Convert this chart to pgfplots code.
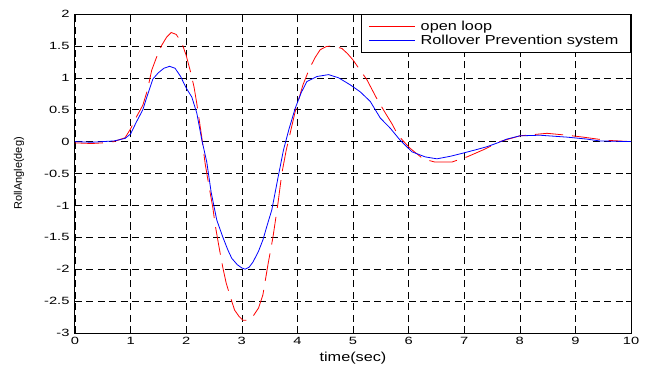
\documentclass[border=0pt]{standalone}
\usepackage{fontspec}
\setmainfont{Liberation Sans}
\newfontfamily\tickfont[FakeStretch=1.4]{Liberation Sans}
\newfontfamily\labfont[FakeStretch=1.25]{Liberation Sans}
\usepackage{pgfplots}
\pgfplotsset{compat=1.18}
\begin{document}
\begin{tikzpicture}
\useasboundingbox (-75bp,-36bp) rectangle (576bp,333bp);
\begin{axis}[
  at={(0,0)}, anchor=south west,
  scale only axis, width=556bp, height=319bp,
  xmin=0, xmax=10, ymin=-3, ymax=2,
  xtick={0,1,...,10}, ytick={-3,-2.5,...,2},
  yticklabels={-3,-2.5,-2,-1.5,-1,-0.5,0,0.5,1,1.5,2},
  xticklabels={0,1,2,3,4,5,6,7,8,9,10},
  /pgf/number format/assume math mode=true,
  tick label style={font=\tickfont\fontsize{10.5bp}{12bp}\selectfont},
  xticklabel style={yshift=-1bp},
  yticklabel style={xshift=-2bp},
  tick align=inside, major tick length=5bp,
  tick style={black, line width=0.6bp},
  axis line style={black, line width=1bp},
  grid=major,
  major grid style={black, line width=0.6bp, dash pattern=on 7bp off 4.5bp},
  xlabel={time(sec)},
  xlabel style={font=\labfont\fontsize{13bp}{15bp}\selectfont, at={(axis description cs:0.5,0)}, anchor=center, yshift=-25bp},
  ylabel={RollAngle(deg)},
  ylabel style={font=\fontsize{11bp}{13bp}\selectfont, at={(axis description cs:-0.1007,0.5)}, anchor=center},
  legend style={at={(1,1)}, anchor=north east, draw=black, line width=1bp, fill=white,
    font=\labfont\fontsize{13bp}{15bp}\selectfont, inner xsep=7bp, inner ysep=4.5bp,
    row sep=-0.5bp, legend cell align=left, nodes={inner xsep=5bp}},
  legend image code/.code={\draw[#1, solid] (0bp,0bp) -- (46bp,0bp);},
]
\addplot[red, line width=0.8bp, dash pattern=on 28bp off 9bp] coordinates {
(0,-0.02) (0.3,-0.03) (0.5,-0.02) (0.7,0.0) (0.9,0.06) (1.0,0.2) (1.1,0.38) (1.22,0.57)
(1.3,0.8) (1.38,1.12) (1.47,1.33) (1.56,1.51) (1.65,1.64) (1.73,1.71) (1.82,1.68)
(1.92,1.55) (2.0,1.35) (2.07,1.12) (2.14,0.86) (2.19,0.6) (2.28,0.07) (2.34,-0.34)
(2.41,-0.7) (2.48,-1.04) (2.52,-1.3) (2.59,-1.65) (2.66,-1.98) (2.72,-2.22) (2.8,-2.45)
(2.87,-2.64) (2.95,-2.74) (3.02,-2.8) (3.12,-2.8) (3.2,-2.74) (3.3,-2.61) (3.38,-2.4)
(3.47,-1.93) (3.56,-1.5) (3.65,-0.97) (3.72,-0.5) (3.8,-0.13) (3.88,0.17) (3.96,0.47)
(4.1,0.89) (4.22,1.15) (4.32,1.32) (4.41,1.44) (4.52,1.49) (4.62,1.5) (4.72,1.48)
(4.8,1.46) (4.9,1.38) (5.0,1.28) (5.12,1.13) (5.25,0.97) (5.43,0.67) (5.58,0.45)
(5.7,0.28) (5.81,0.1) (6.02,-0.1) (6.26,-0.27) (6.47,-0.32) (6.78,-0.32) (7.05,-0.24)
(7.34,-0.13) (7.64,0.0) (8.0,0.09) (8.49,0.13) (8.85,0.1) (9.14,0.07) (9.56,0.02) (10,0.0)
};
\addlegendentry{open loop}
\addplot[blue, line width=0.8bp] coordinates {
(0,0) (0.3,-0.01) (0.5,0.0) (0.7,0.01) (0.9,0.05) (1.0,0.12) (1.1,0.3) (1.22,0.5)
(1.3,0.72) (1.4,0.98) (1.5,1.08) (1.6,1.15) (1.7,1.18) (1.8,1.15) (1.9,1.02) (2.0,0.84)
(2.1,0.7) (2.19,0.45) (2.28,0.03) (2.37,-0.32) (2.45,-0.8) (2.55,-1.23) (2.66,-1.5)
(2.75,-1.7) (2.82,-1.83) (2.92,-1.93) (3.0,-1.98) (3.06,-2.0) (3.13,-1.97) (3.2,-1.89)
(3.3,-1.72) (3.38,-1.54) (3.46,-1.3) (3.54,-1.07) (3.65,-0.57) (3.75,-0.13) (3.85,0.2)
(3.96,0.52) (4.07,0.77) (4.17,0.94) (4.35,1.02) (4.56,1.05) (4.74,1.0) (4.95,0.89)
(5.13,0.78) (5.31,0.63) (5.49,0.37) (5.67,0.21) (5.85,0.02) (6.06,-0.16) (6.3,-0.24)
(6.51,-0.27) (6.75,-0.23) (6.98,-0.18) (7.2,-0.13) (7.41,-0.08) (7.6,-0.02) (7.77,0.04)
(8.0,0.09) (8.36,0.1) (8.85,0.07) (9.2,0.04) (9.44,0.01) (10,0)
};
\addlegendentry{Rollover Prevention system}
\end{axis}
\end{tikzpicture}
\end{document}
